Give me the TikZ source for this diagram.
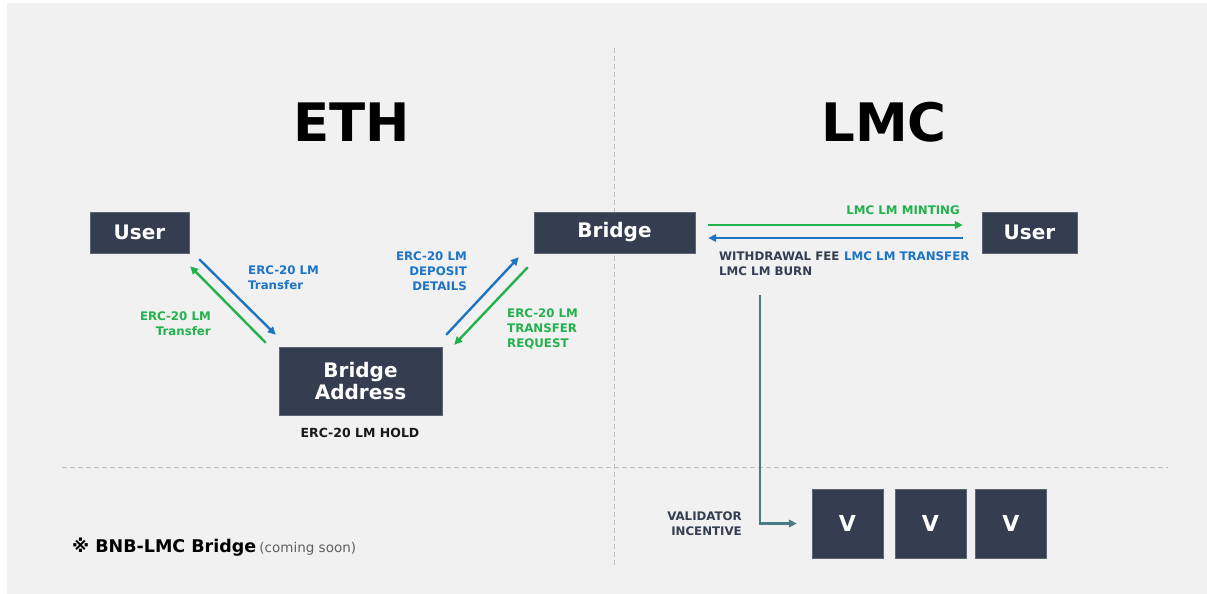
\documentclass[tikz,border=0pt]{standalone}
\usepackage{fontspec}
\setmainfont{DejaVu Sans}
\usetikzlibrary{arrows.meta}

\definecolor{boxfill}{HTML}{343E50}
\definecolor{bgcol}{HTML}{F1F1F1}
\definecolor{lmblue}{HTML}{1E74C4}
\definecolor{lmgreen}{HTML}{22B14C}
\definecolor{lmteal}{HTML}{4A7A82}
\definecolor{dashcol}{HTML}{BDBDC2}
\definecolor{softgray}{HTML}{606060}

\begin{document}
\begin{tikzpicture}[x=1pt, y=-1pt,
    box/.style={rectangle, fill=boxfill, draw=boxfill!80!white, text=white, inner sep=0pt,
        font=\bfseries\fontsize{20}{22}\selectfont},
    lbl/.style={inner sep=0pt, font=\bfseries\fontsize{11.8}{14.8}\selectfont},
    flow/.style={line width=2.4pt, -{Triangle[length=8pt,width=7.5pt]}}
]
    \useasboundingbox (0,0) rectangle (1207,594);
    \fill[white] (0,0) rectangle (1207,594);
    \fill[bgcol] (7,3) rectangle (1207,594);

    \draw[dashcol, line width=1pt, dash pattern=on 5pt off 3pt] (614,48) -- (614,565);
    \draw[dashcol, line width=1pt, dash pattern=on 5pt off 3pt] (62,467) -- (1168,467);

    \node[font=\bfseries\fontsize{53}{60}\selectfont] (eth) at (352,122) {ETH};
    \node[font=\bfseries\fontsize{53}{60}\selectfont] (lmc) at (884,122) {LMC};

    \node[box, minimum width=99pt, minimum height=41pt] at (139.5,232.5) (ethuser) {User};
    \node[box, minimum width=161pt, minimum height=41pt] at (614.5,232.5) (bridge) {Bridge};
    \node[box, minimum width=95pt, minimum height=41pt] at (1029.5,232.5) (lmcuser) {User};
    \node[box, align=center, minimum width=163pt, minimum height=68pt,
        font=\bfseries\fontsize{20}{22}\selectfont] at (360.5,381) (addr) {Bridge\\Address};
    \node[box, minimum width=71pt, minimum height=69pt, font=\bfseries\fontsize{22}{24}\selectfont] at (847.5,523.5) (v1) {V};
    \node[box, minimum width=71pt, minimum height=69pt, font=\bfseries\fontsize{22}{24}\selectfont] at (930.5,523.5) (v2) {V};
    \node[box, minimum width=71pt, minimum height=69pt, font=\bfseries\fontsize{22}{24}\selectfont] at (1011,523.5) (v3) {V};

    % ETH side
    \draw[flow, lmblue] ([shift={(10,6)}]ethuser.south east) -- ([shift={(-3,-12)}]addr.north west);
    \draw[flow, lmgreen] ([shift={(-13,-4)}]addr.north west) -- ([shift={(1,13)}]ethuser.south east);
    \draw[flow, lmblue] ([shift={(4,-12)}]addr.north east) -- ([shift={(-15,4)}]bridge.south west);
    \draw[flow, lmgreen] ([shift={(-6,14)}]bridge.south west) -- ([shift={(12,-2)}]addr.north east);

    \node[lbl, text=lmblue, align=left, anchor=north west] (utr) at (248,266) {ERC-20 LM\\Transfer};
    \node[lbl, text=lmgreen, align=right, anchor=north east] (atr) at (211,312) {ERC-20 LM\\Transfer};
    \node[lbl, text=lmblue, align=right, anchor=north east] (dep) at (467,252) {ERC-20 LM\\DEPOSIT\\DETAILS};
    \node[lbl, text=lmgreen, align=left, anchor=north west] (req) at (507,309) {ERC-20 LM\\TRANSFER\\REQUEST};
    \node[lbl, text=black!90, anchor=north, font=\bfseries\fontsize{12.5}{15}\selectfont] (hold) at (360,428) {ERC-20 LM HOLD};

    % LMC side
    \draw[flow, lmgreen] ([shift={(13,-7.5)}]bridge.east) -- ([shift={(-19,-7.5)}]lmcuser.west);
    \draw[flow, lmblue] ([shift={(-19,5.5)}]lmcuser.west) -- ([shift={(13,5.5)}]bridge.east);

    \node[lbl, text=lmgreen, anchor=north east] (mint) at (960,206) {LMC LM MINTING};
    \node[lbl, text=boxfill, align=left, anchor=north west] (burn) at (719,252) {WITHDRAWAL FEE\\LMC LM BURN};
    \node[lbl, text=lmblue, anchor=north west] (ltr) at (844,252) {LMC LM TRANSFER};

    \coordinate (feeout) at (760,295);
    \draw[lmteal, line width=2.2pt, -{Triangle[length=8pt,width=7.5pt]}] (feeout) |- ([xshift=-15pt]v1.west);
    \node[lbl, text=boxfill, align=right, anchor=north east] (inc) at (742,512) {VALIDATOR\\INCENTIVE};

    \node[anchor=base west, inner sep=0pt] (note) at (72,552)
        {{\bfseries\fontsize{17.5}{20}\selectfont ※ BNB-LMC Bridge} {\fontsize{13.5}{16}\selectfont\color{softgray}(coming soon)}};
\end{tikzpicture}
\end{document}
